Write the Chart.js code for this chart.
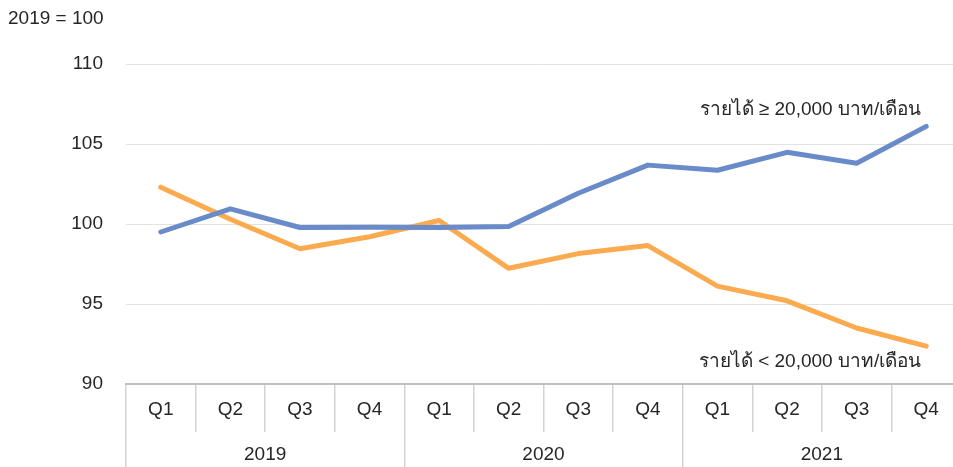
<!DOCTYPE html>
<html>
<head>
<meta charset="utf-8">
<script src="https://cdn.jsdelivr.net/npm/chart.js@4/dist/chart.umd.min.js"></script>
<style>
  html, body { margin: 0; padding: 0; background: #ffffff; overflow: hidden; }
  #wrap { position: relative; width: 965px; height: 467px; }
</style>
</head>
<body>
<div id="wrap"><canvas id="c"></canvas></div>
<script>
const quarters = ['Q1','Q2','Q3','Q4','Q1','Q2','Q3','Q4','Q1','Q2','Q3','Q4'];
const years = ['2019','2020','2021'];
const highIncome = [99.5, 100.95, 99.78, 99.8, 99.78, 99.85, 101.92, 103.68, 103.36, 104.48, 103.8, 106.1];
const lowIncome = [102.3, 100.3, 98.45, 99.2, 100.22, 97.23, 98.15, 98.65, 96.12, 95.2, 93.5, 92.37];
const highLabel = 'รายได้ ≥ 20,000 บาท/เดือน';
const lowLabel = 'รายได้ < 20,000 บาท/เดือน';
const unitLabel = '2019 = 100';
const yTicks = { min: 90, max: 110, step: 5 };

const FONT = "'Liberation Sans', Arial, 'Noto Sans', 'DejaVu Sans', sans-serif";
const FS = 19;
const TEXT = '#262626';
Chart.defaults.font.family = FONT;
Chart.defaults.font.size = FS;
Chart.defaults.color = TEXT;

const textPlugin = {
  id: 'texts',
  afterDraw(chart) {
    const ctx = chart.ctx;
    const x = chart.scales.x, y = chart.scales.y;
    ctx.save();
    ctx.font = FS + 'px ' + FONT;
    ctx.fillStyle = TEXT;
    ctx.textBaseline = 'middle';
    ctx.textAlign = 'left';
    ctx.fillText(unitLabel, 8, 19);
    ctx.textAlign = 'right';
    const xr = x.getPixelForValue(highIncome.length - 1) - 5;
    ctx.fillText(highLabel, xr, y.getPixelForValue(highIncome[highIncome.length - 1]) - 17);
    ctx.fillText(lowLabel, xr, y.getPixelForValue(lowIncome[lowIncome.length - 1]) + 16);
    ctx.restore();
  }
};

new Chart(document.getElementById('c'), {
  type: 'line',
  data: {
    labels: quarters,
    datasets: [
      { label: highLabel, data: highIncome, borderColor: '#6a8bc9', borderWidth: 5, pointRadius: 0, tension: 0, xAxisID: 'x', yAxisID: 'y', borderCapStyle: 'round', borderJoinStyle: 'round' },
      { label: lowLabel, data: lowIncome, borderColor: '#fbaa50', borderWidth: 5, pointRadius: 0, tension: 0, xAxisID: 'x', yAxisID: 'y', borderCapStyle: 'round', borderJoinStyle: 'round' }
    ]
  },
  options: {
    responsive: true,
    maintainAspectRatio: false,
    animation: false,
    layout: { padding: { top: 64, right: 4, bottom: 0, left: 0 } },
    plugins: { legend: { display: false }, tooltip: { enabled: false }, title: { display: false } },
    scales: {
      y: {
        min: yTicks.min, max: yTicks.max,
        ticks: { stepSize: yTicks.step, padding: 23, color: TEXT },
        grid: { color: '#e2e2e2', lineWidth: 1, drawTicks: false },
        border: { display: false },
        afterFit(s) { s.width = 126; }
      },
      x: {
        type: 'category',
        position: 'bottom',
        offset: true,
        grid: { offset: true, drawOnChartArea: false, drawTicks: true, tickLength: 48, color: '#d3d3d3', lineWidth: 1.5 },
        border: { display: true, color: '#bfbfbf', width: 2 },
        ticks: { padding: -34, color: TEXT, autoSkip: false, maxRotation: 0 },
        afterFit(s) { s.height = 48; }
      },
      x2: {
        type: 'category',
        position: 'bottom',
        labels: years,
        offset: true,
        grid: { offset: true, drawOnChartArea: false, drawTicks: true, tickLength: 35, color: '#d3d3d3', lineWidth: 1.5 },
        border: { display: false },
        ticks: { padding: -24, color: TEXT, autoSkip: false, maxRotation: 0 },
        afterFit(s) { s.height = 35; }
      }
    }
  },
  plugins: [textPlugin]
});
</script>
</body>
</html>
